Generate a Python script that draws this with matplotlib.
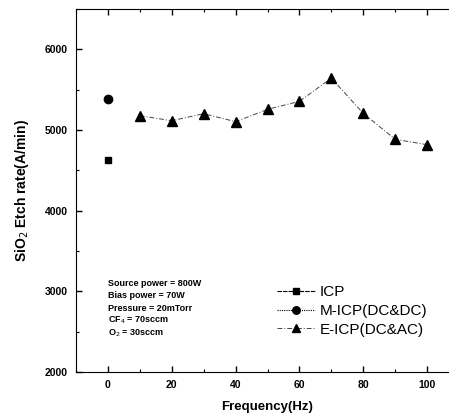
import matplotlib
matplotlib.use("Agg")
import matplotlib.pyplot as plt
from matplotlib.ticker import MultipleLocator

plt.rcParams['font.family'] = ['Liberation Sans', 'DejaVu Sans']

# data
icp_freq = [0]
icp_rate = [4630]
micp_freq = [0]
micp_rate = [5390]
eicp_freq = [10, 20, 30, 40, 50, 60, 70, 80, 90, 100]
eicp_rate = [5177, 5115, 5202, 5103, 5256, 5355, 5643, 5206, 4885, 4818]

conditions = ["Source power = 800W",
              "Bias power = 70W",
              "Pressure = 20mTorr",
              "CF$_4$ = 70sccm",
              "O$_2$ = 30sccm"]

fig = plt.figure(figsize=(4.49, 4.15), dpi=100)
ax = fig.add_axes([0.1693, 0.1036, 0.853, 0.8747])

ax.plot(icp_freq, icp_rate, color='black', marker='s', ms=5,
        ls=(0, (4, 1)), lw=0.8, label='ICP')
ax.plot(micp_freq, micp_rate, color='black', marker='o', ms=6,
        ls=(0, (1, 1)), lw=0.8, label='M-ICP(DC&DC)')
ax.plot(eicp_freq, eicp_rate, color='#444444', marker='^', ms=6.5,
        mfc='black', mec='black', ls=(0, (5, 2, 1, 2)), lw=0.7,
        label='E-ICP(DC&AC)')

ax.set_xlim(-10, 110)
ax.set_ylim(2000, 6500)
ax.xaxis.set_major_locator(MultipleLocator(20))
ax.xaxis.set_minor_locator(MultipleLocator(10))
ax.yaxis.set_major_locator(MultipleLocator(1000))
ax.yaxis.set_minor_locator(MultipleLocator(500))
ax.tick_params(which='both', direction='in', top=True, right=True)
ax.tick_params(which='major', length=4, width=1, labelsize=7.5, pad=6)
ax.tick_params(which='minor', length=2, width=0.8)
ax.set_yticks([2000, 3000, 4000, 5000, 6000])
for lab in ax.get_xticklabels() + ax.get_yticklabels():
    lab.set_fontweight('bold')

ax.set_xlabel('Frequency(Hz)', fontsize=9.5, fontweight='bold', labelpad=8)
ax.set_ylabel('SiO$_2$ Etch rate(A/min)', fontsize=10, fontweight='bold',
              labelpad=10)

for i, txt in enumerate(conditions):
    fig.text(108 / 449, 1 - (283 + i * 12.5) / 415, txt, fontsize=6.5,
             fontweight='bold', va='center', ha='left')

ax.legend(loc='upper left', bbox_to_anchor=(277 / 449, 1 - 285 / 415),
          bbox_transform=fig.transFigure, frameon=False, fontsize=11,
          handlelength=2.5, labelspacing=0.32, handletextpad=0.3,
          borderpad=0, borderaxespad=0, markerscale=0.9)

fig.savefig('out.png', dpi=100)
